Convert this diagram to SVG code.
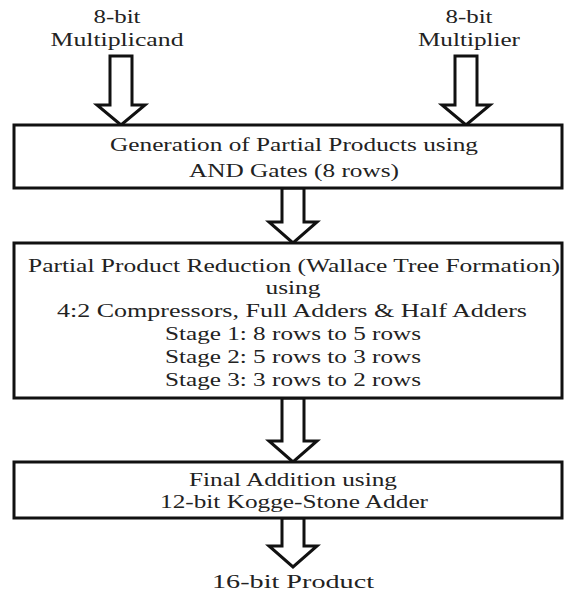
<svg xmlns="http://www.w3.org/2000/svg" width="564" height="592" viewBox="0 0 564 592">
<style>
.box{fill:#fff;stroke:#111;stroke-width:3}
.arr{fill:#fff;stroke:#111;stroke-width:3;stroke-linejoin:miter}
.t{font-family:'Liberation Serif','DejaVu Serif',serif;font-size:19px;fill:#222;text-anchor:middle}
</style>
<rect width="564" height="592" fill="#fff"/>
<g id="in-multiplicand" class="t" font-family="Liberation Serif, serif">
<text x="117" y="23" textLength="47" lengthAdjust="spacingAndGlyphs">8-bit</text>
<text x="117" y="46" textLength="133" lengthAdjust="spacingAndGlyphs">Multiplicand</text>
</g>
<g id="in-multiplier" class="t" font-family="Liberation Serif, serif">
<text x="469" y="23" textLength="47" lengthAdjust="spacingAndGlyphs">8-bit</text>
<text x="469" y="46" textLength="102" lengthAdjust="spacingAndGlyphs">Multiplier</text>
</g>
<g id="connectors">
<polygon class="arr" points="110,56 132,56 132,105 145,105 121,125 97,105 110,105"/>
<polygon class="arr" points="455,56 477,56 477,105 490,105 466,125 442,105 455,105"/>
<polygon class="arr" points="282,188 304,188 304,222 317,222 293,243 269,222 282,222"/>
<polygon class="arr" points="282,398 304,398 304,441 317,441 293,462 269,441 282,441"/>
<polygon class="arr" points="282,518 304,518 304,546 317,546 293,567 269,546 282,546"/>
</g>
<g id="box-generation" class="t" font-family="Liberation Serif, serif">
<rect class="box" x="14" y="125" width="548" height="63"/>
<text x="294" y="151" textLength="368" lengthAdjust="spacingAndGlyphs">Generation of Partial Products using</text>
<text x="294" y="177" textLength="210" lengthAdjust="spacingAndGlyphs">AND Gates (8 rows)</text>
</g>
<g id="box-reduction" class="t" font-family="Liberation Serif, serif">
<rect class="box" x="14" y="243" width="548" height="155"/>
<text x="294" y="272" textLength="532" lengthAdjust="spacingAndGlyphs">Partial Product Reduction  (Wallace Tree Formation)</text>
<text x="293" y="294" textLength="55" lengthAdjust="spacingAndGlyphs">using</text>
<text x="292" y="317" textLength="470" lengthAdjust="spacingAndGlyphs">4:2 Compressors, Full Adders &amp; Half Adders</text>
<text x="293" y="340" textLength="256" lengthAdjust="spacingAndGlyphs">Stage 1: 8 rows to 5 rows</text>
<text x="293" y="363" textLength="256" lengthAdjust="spacingAndGlyphs">Stage 2: 5 rows to 3 rows</text>
<text x="293" y="386" textLength="256" lengthAdjust="spacingAndGlyphs">Stage 3: 3 rows to 2 rows</text>
</g>
<g id="box-final" class="t" font-family="Liberation Serif, serif">
<rect class="box" x="14" y="462" width="548" height="56"/>
<text x="293" y="486" textLength="208" lengthAdjust="spacingAndGlyphs">Final Addition using</text>
<text x="294" y="508" textLength="268" lengthAdjust="spacingAndGlyphs">12-bit Kogge-Stone Adder</text>
</g>
<g id="out-product" class="t" font-family="Liberation Serif, serif">
<text x="293" y="588" textLength="162" lengthAdjust="spacingAndGlyphs">16-bit Product</text>
</g>
</svg>
